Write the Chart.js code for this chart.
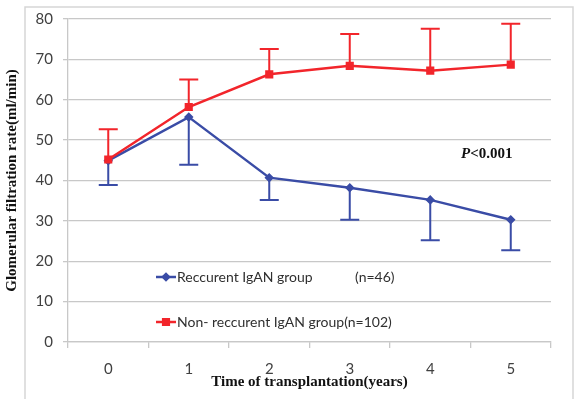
<!DOCTYPE html>
<html>
<head>
<meta charset="utf-8">
<script src="https://cdn.jsdelivr.net/npm/chart.js@4"></script>
<style>
  body { margin: 0; background: #fff; }
  #wrap { width: 576px; height: 399px; }
</style>
</head>
<body>
<div id="wrap"><canvas id="c" width="576" height="399"></canvas></div>
<script>
// data
const years = ['0', '1', '2', '3', '4', '5'];
const recurrent = [44.9, 55.7, 40.7, 38.2, 35.2, 30.3];
const recurrentLow = [38.9, 43.9, 35.2, 30.3, 25.2, 22.7];   // lower error bar ends
const nonRecurrent = [45.2, 58.2, 66.3, 68.4, 67.2, 68.7];
const nonRecurrentHigh = [52.7, 65.0, 72.6, 76.3, 77.6, 78.8]; // upper error bar ends
const seriesNames = ['Reccurent IgAN group', 'Non- reccurent IgAN group(n=102)'];
const blueCount = '(n=46)';

const BLUE = '#3a4ca6';
const RED = '#f2252b';
const GRID = '#c8c8c8';

const tickFont = { family: 'Lato', size: 15 };
const titleFont = { family: 'Liberation Serif', size: 15, weight: 'bold' };

// frame + white background
const frame = {
  id: 'frame',
  beforeDraw(chart) {
    const ctx = chart.ctx;
    ctx.save();
    ctx.fillStyle = '#fff';
    ctx.fillRect(0, 0, chart.width, chart.height);
    ctx.strokeStyle = '#d6d6d6';
    ctx.lineWidth = 1.5;
    ctx.strokeRect(25, 7, 548, 400);
    ctx.restore();
  }
};

// error bars (one side only, as in the figure)
const errorBars = {
  id: 'errorBars',
  beforeDatasetsDraw(chart) {
    const { ctx, scales: { x, y } } = chart;
    const sets = [[recurrent, recurrentLow, BLUE], [nonRecurrent, nonRecurrentHigh, RED]];
    ctx.save();
    ctx.lineWidth = 2;
    sets.forEach(([vals, ends, col]) => {
      ctx.strokeStyle = col;
      vals.forEach((v, i) => {
        const px = x.getPixelForValue(i);
        const y0 = y.getPixelForValue(v);
        const y1 = y.getPixelForValue(ends[i]);
        ctx.beginPath();
        ctx.moveTo(px, y0);
        ctx.lineTo(px, y1);
        ctx.moveTo(px - 9.5, y1);
        ctx.lineTo(px + 9.5, y1);
        ctx.stroke();
      });
    });
    ctx.restore();
  }
};

// legend inside plot + p value
const notes = {
  id: 'notes',
  afterDraw(chart) {
    const ctx = chart.ctx;
    ctx.save();
    ctx.textBaseline = 'middle';
    ctx.font = '14px Lato';

    const rows = [[BLUE, 277, 'rectRot', 3], [RED, 322, 'rect', 4]];
    rows.forEach(([col, yy, style, r], i) => {
      ctx.strokeStyle = col;
      ctx.fillStyle = col;
      ctx.lineWidth = 2.5;
      ctx.beginPath();
      ctx.moveTo(156, yy);
      ctx.lineTo(176, yy);
      ctx.stroke();
      Chart.helpers.drawPoint(ctx, { pointStyle: style, radius: r, borderWidth: 1 }, 166, yy);
      ctx.fillStyle = '#303030';
      ctx.fillText(seriesNames[i], 177, yy);
    });
    ctx.fillText(blueCount, 355, 277);

    ctx.fillStyle = '#111';
    ctx.font = 'italic bold 15px "Liberation Serif"';
    ctx.fillText('P', 461, 154);
    const w = ctx.measureText('P').width;
    ctx.font = 'bold 15px "Liberation Serif"';
    ctx.fillText('<0.001', 461 + w, 154);
    ctx.restore();
  }
};

new Chart(document.getElementById('c'), {
  type: 'line',
  data: {
    labels: years,
    datasets: [
      {
        label: seriesNames[0],
        data: recurrent,
        borderColor: BLUE,
        backgroundColor: BLUE,
        borderWidth: 2.5,
        pointStyle: 'rectRot',
        pointRadius: 3,
        tension: 0,
        order: 1
      },
      {
        label: seriesNames[1],
        data: nonRecurrent,
        borderColor: RED,
        backgroundColor: RED,
        borderWidth: 2.5,
        pointStyle: 'rect',
        pointRadius: 4,
        tension: 0,
        order: 0
      }
    ]
  },
  options: {
    responsive: false,
    animation: false,
    layout: { padding: { top: 18, right: 25, left: 0, bottom: 0 } },
    plugins: {
      legend: { display: false },
      tooltip: { enabled: false }
    },
    scales: {
      x: {
        offset: true,
        grid: {
          offset: true,
          drawOnChartArea: false,
          color: GRID,
          tickLength: 6,
          lineWidth: 1.3
        },
        border: { color: GRID, width: 1.3 },
        ticks: { font: tickFont, color: '#404040', padding: 12 },
        title: {
          display: true,
          text: 'Time of transplantation(years)',
          font: titleFont,
          color: '#111',
          padding: { top: 0, bottom: 8 }
        },
        afterFit(s) { s.height = 57; }
      },
      y: {
        min: 0,
        max: 80,
        ticks: { stepSize: 10, font: tickFont, color: '#404040', padding: 10 },
        grid: { color: GRID, tickLength: 5, lineWidth: 1.3 },
        border: { color: GRID, width: 1.3 },
        title: {
          display: true,
          text: 'Glomerular filtration rate(ml/min)',
          font: titleFont,
          color: '#111',
          padding: { top: 3, bottom: 0 }
        },
        afterFit(s) { s.width = 68; }
      }
    }
  },
  plugins: [frame, errorBars, notes]
});
</script>
</body>
</html>
